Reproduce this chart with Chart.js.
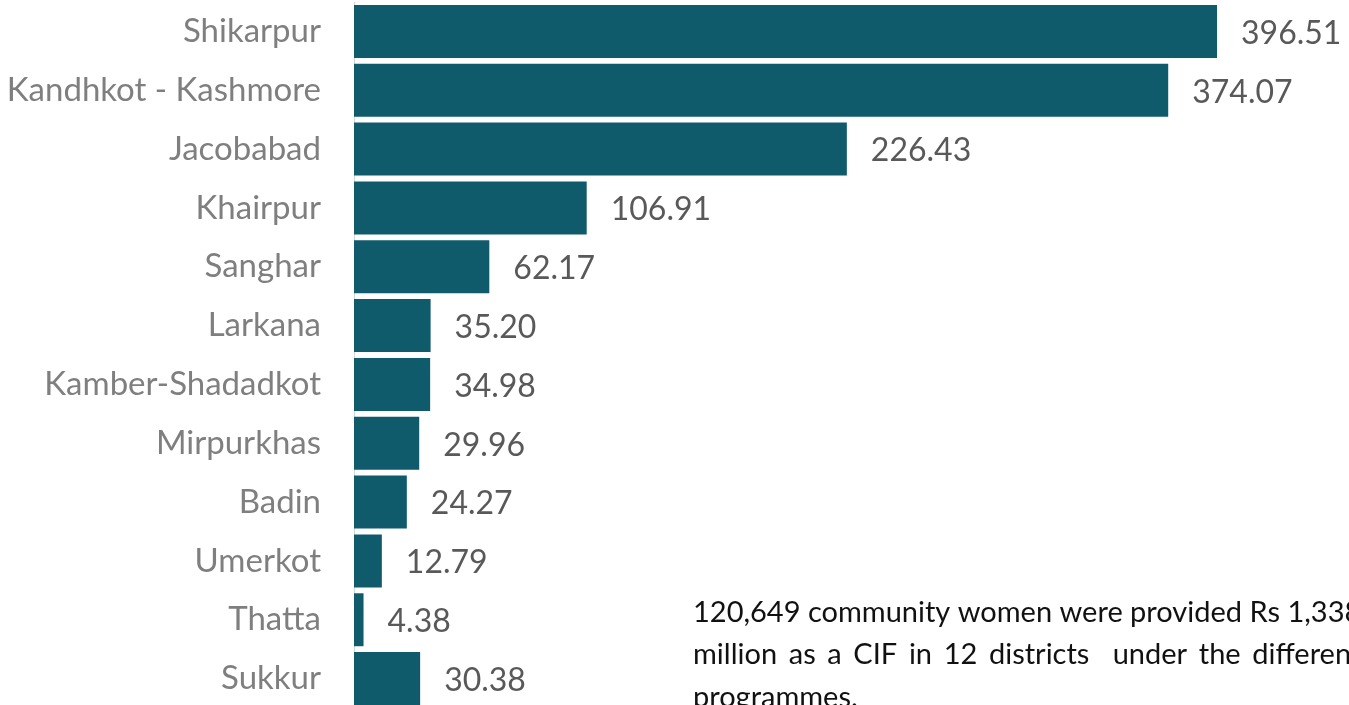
<!DOCTYPE html>
<html>
<head>
<meta charset="utf-8">
<script src="https://cdn.jsdelivr.net/npm/chart.js@4.4.0/dist/chart.umd.min.js"></script>
<style>
    html, body { margin: 0; padding: 0; background: #fff; overflow: hidden; }
    #wadah { position: relative; width: 1349px; height: 708px; }
</style>
</head>
<body>
<div id="wadah"><canvas id="grafikCif"></canvas></div>
<script>
// Data dari gambar
const distrik = ['Shikarpur', 'Kandhkot - Kashmore', 'Jacobabad', 'Khairpur', 'Sanghar', 'Larkana',
    'Kamber-Shadadkot', 'Mirpurkhas', 'Badin', 'Umerkot', 'Thatta', 'Sukkur'];
const nilaiCif = [396.51, 374.07, 226.43, 106.91, 62.17, 35.20, 34.98, 29.96, 24.27, 12.79, 4.38, 30.38];
const catatan = [
    '120,649 community women were provided Rs 1,338',
    'million as a CIF in 12 districts  under the different',
    'programmes.'
];

const FONT = 'Lato, "Open Sans", sans-serif';

// Label nilai di kanan batang
const labelNilai = {
    id: 'labelNilai',
    afterDatasetsDraw(chart) {
        const ctx = chart.ctx;
        const meta = chart.getDatasetMeta(0);
        ctx.save();
        ctx.font = '32px ' + FONT;
        ctx.fillStyle = '#595959';
        ctx.textAlign = 'left';
        ctx.textBaseline = 'middle';
        meta.data.forEach((bar, i) => {
            ctx.fillText(nilaiCif[i].toFixed(2), bar.x + 24, bar.y + 2);
        });
        ctx.restore();
    }
};

// Kotak teks keterangan (terpotong di kanan seperti gambar asli)
const kotakCatatan = {
    id: 'kotakCatatan',
    afterDraw(chart) {
        const ctx = chart.ctx;
        ctx.save();
        ctx.font = '29px ' + FONT;
        ctx.fillStyle = '#111';
        ctx.textBaseline = 'alphabetic';
        const x0 = 693;
        const lebar = ctx.measureText(catatan[0]).width;
        ctx.fillText(catatan[0], x0, 622);
        // baris kedua rata kiri-kanan
        const kata = catatan[1].split(' ');
        const total = kata.reduce((s, k) => s + ctx.measureText(k).width, 0);
        const jarak = (lebar - total) / (kata.length - 1);
        let x = x0;
        kata.forEach(k => {
            ctx.fillText(k, x, 664);
            x += ctx.measureText(k).width + jarak;
        });
        ctx.fillText(catatan[2], x0, 707);
        ctx.restore();
    }
};

const ctx = document.getElementById('grafikCif').getContext('2d');
new Chart(ctx, {
    type: 'bar',
    data: {
        labels: distrik,
        datasets: [{
            data: nilaiCif,
            backgroundColor: '#0f5b6c',
            barPercentage: 0.9,
            categoryPercentage: 1.0
        }]
    },
    options: {
        indexAxis: 'y',
        responsive: true,
        maintainAspectRatio: false,
        animation: false,
        layout: { padding: { left: 0, right: 9, top: 2, bottom: 0 } },
        plugins: {
            legend: { display: false },
            tooltip: { enabled: false }
        },
        scales: {
            x: {
                min: 0,
                max: 453,
                display: false
            },
            y: {
                afterFit: s => {
                    s.width = 354;
                    s.paddingTop = 0;
                    s.paddingBottom = 0;
                },
                grid: { display: false, drawTicks: false },
                border: { display: true, color: '#cfd8dc', width: 1 },
                ticks: {
                    padding: 33,
                    color: '#7f7f7f',
                    font: { family: FONT, size: 33 }
                }
            }
        }
    },
    plugins: [labelNilai, kotakCatatan]
});
</script>
</body>
</html>
